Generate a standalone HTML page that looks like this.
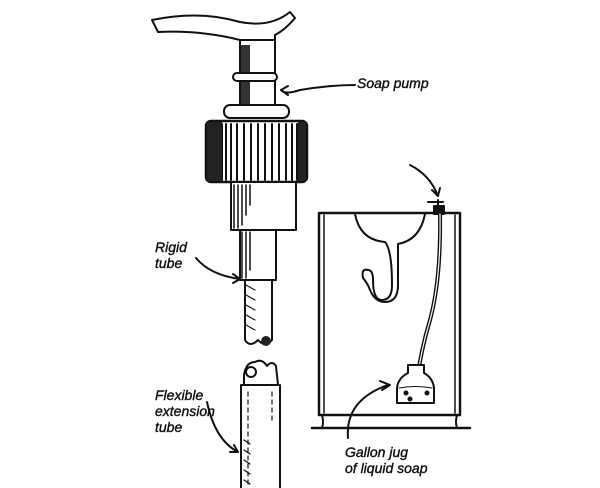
<!DOCTYPE html>
<html><head><style>
html,body{margin:0;padding:0;background:#fff;}
svg{display:block}
text{font-family:"Liberation Sans",sans-serif;font-style:italic;font-size:14px;fill:#111;stroke:#111;stroke-width:0.4;}
</style></head><body>
<svg width="600" height="488" viewBox="0 0 600 488" xmlns="http://www.w3.org/2000/svg" fill="none" stroke="#111" stroke-width="2" stroke-linecap="round" stroke-linejoin="round">
<path d="M152 20 Q200 10 240 22 Q270 28 290 12 L295 18 Q285 30 275 35 L275 40 L240 40 Q200 30 158 32 Z" fill="#fff"/>
<path d="M240 40 L240 108 M275 38 L275 108"/>
<path d="M241 45 L250 45 L250 108 L241 108Z" fill="#333" stroke="none"/>
<rect x="233" y="73" width="44" height="8" rx="4" fill="#fff"/>
<rect x="224" y="105" width="65" height="13" rx="6" fill="#fff"/>
<rect x="206" y="121" width="101" height="61" rx="5" fill="#fff" stroke-width="2.5"/>
<path d="M210 124V180M214 124V180M218 124V180M222 124V180M226 124V180M231 124V180M237 124V180M244 124V180M251 124V180M258 124V180M265 124V180M272 124V180M279 124V180M286 124V180M292 124V180M297 124V180M301 124V180M304 124V180"/>
<path d="M207 122 L222 122 L222 181 L207 181Z" fill="#222" stroke="none"/>
<path d="M298 122 L306 122 L306 181 L298 181Z" fill="#222" stroke="none"/>
<rect x="231" y="182" width="65" height="48" fill="#fff"/>
<path d="M234 185V228M238 185V228M242 185V225M246 185V215M250 185V205" stroke-width="1.5"/>
<rect x="240" y="230" width="36" height="50" fill="#fff"/>
<path d="M242 232V278M246 232V278M250 232V270" stroke-width="1.5"/>
<path d="M245 280 L245 340 Q250 348 258 340 Q265 348 272 340 L272 280"/>
<path d="M246 285 L255 290 M246 295 L255 300 M246 305 L255 310 M246 315 L255 320 M246 325 L255 330" stroke-width="1.2"/>
<circle cx="266" cy="341" r="5" fill="#222" stroke="none"/>
<path d="M244 385 L244 375 Q246 362 255 362 Q262 358 267 366 Q272 360 276 366 L278 385"/>
<circle cx="251" cy="372" r="5" fill="#fff"/>
<rect x="241" y="385" width="39" height="110" fill="#fff"/>
<path d="M248 392V488M272 392V420" stroke-width="1.2" stroke-dasharray="4 4"/>
<path d="M244 440 L250 444 M244 450 L250 454 M244 460 L250 464 M244 470 L250 474 M244 480 L250 484" stroke-width="1.2"/>
<path d="M196 258 Q210 275 240 279"/><path d="M233 274 L240 279 L233 283"/>
<path d="M207 402 Q215 440 238 452"/><path d="M230 452 L238 452 L234 445"/>
<path d="M355 85 Q330 85 300 90 Q285 95 281 90"/><path d="M288 86 L281 90 L288 95"/>
<path d="M410 165 Q430 175 438 196"/><path d="M432 190 L438 196 L440 188"/>
<path d="M348 438 Q345 400 388 385"/><path d="M380 381 L390 385 L382 390"/>
<rect x="319" y="213" width="141" height="202" stroke-width="2.5"/>
<path d="M324 215V413M455 215V413" stroke-width="1.5"/>
<path d="M312 428 L470 428" stroke-width="2.5"/>
<path d="M322 415 Q324 422 322 428 M457 415 Q455 422 457 428"/>
<path d="M355 214 Q360 240 385 242 Q392 250 392 285 Q392 300 382 300 Q373 300 373 280 Q373 270 368 270 Q361 268 363 278 Q368 284 370 290 Q375 302 385 302 Q398 302 398 285 L398 244 Q420 240 425 214"/>
<path d="M428 202 L443 202 M438 200 L438 210"/>
<rect x="434" y="206" width="10" height="8" fill="#111"/>
<path d="M440 214 Q441 280 430 320 Q418 360 415 400" stroke-width="4"/>
<path d="M440 214 Q441 280 430 320 Q418 360 415 400" stroke="#fff" stroke-width="1.2"/>
<path d="M408 365 L408 373 Q398 378 397 388 L397 403 L434 403 L434 388 Q433 378 424 373 L424 365Z" fill="#fff"/>
<path d="M399 388 Q415 385 432 388" stroke-width="1"/>
<circle cx="406" cy="393" r="1.5" fill="#111"/><circle cx="410" cy="399" r="1.5" fill="#111"/><circle cx="427" cy="393" r="1.5" fill="#111"/>
<text x="357" y="88">Soap pump</text>
<text x="155" y="252">Rigid</text>
<text x="155" y="268">tube</text>
<text x="155" y="400">Flexible</text>
<text x="155" y="416">extension</text>
<text x="155" y="432">tube</text>
<text x="345" y="457">Gallon jug</text>
<text x="345" y="473">of liquid soap</text>
</svg>
</body></html>
